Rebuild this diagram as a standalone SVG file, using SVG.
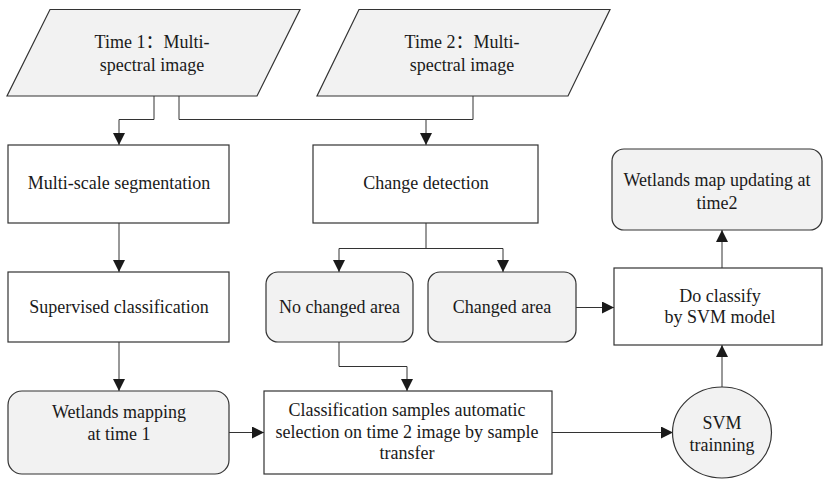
<svg xmlns="http://www.w3.org/2000/svg" width="823" height="479" viewBox="0 0 823 479">
  <defs>
    <marker id="arrow" markerWidth="12" markerHeight="12" refX="12" refY="6" orient="auto" markerUnits="userSpaceOnUse">
      <path d="M0,0 L12,6 L0,12 Z" fill="#1a1a1a"/>
    </marker>
  </defs>
  <style>
    .box { fill: #ffffff; stroke: #333333; stroke-width: 1.2; }
    .soft { fill: #f2f2f2; stroke: #333333; stroke-width: 1.2; }
    .link { fill: none; stroke: #333333; stroke-width: 1; marker-end: url(#arrow); }
    .plain { fill: none; stroke: #333333; stroke-width: 1; }
  </style>
  <rect width="823" height="479" fill="#ffffff"/>

  <!-- connectors -->
  <g id="connectors">
    <path class="link" d="M154,96 V119.5 H119 V145"/>
    <path class="plain" d="M179,96 V119.5 H473 V96"/>
    <path class="link" d="M426,119.5 V145"/>
    <path class="link" d="M119,223 V272"/>
    <path class="link" d="M119,342 V391"/>
    <path class="plain" d="M426,223 V248.5"/>
    <path class="link" d="M426,248.5 H339 V272"/>
    <path class="link" d="M426,248.5 H503 V272"/>
    <path class="link" d="M339,342 V366.5 H407 V391"/>
    <path class="link" d="M229,432.5 H264"/>
    <path class="link" d="M552,432.5 H673"/>
    <path class="link" d="M576,307.5 H614"/>
    <path class="link" d="M722,387 V345"/>
    <path class="link" d="M722,268 V230"/>
  </g>

  <!-- labels: Times-metric serif, centred -->
  <g fill="#1a1a1a" text-anchor="middle">
  <g id="time1-image">
    <polygon class="soft" points="50,9.5 300,9.5 257,96 7,96"/>
    <text x="152" y="48" font-family="Liberation Serif, Noto Sans CJK SC, serif" font-size="18">Time 1&#xFF1A;Multi-</text>
    <text x="152" y="71" font-family="Liberation Serif, serif" font-size="18">spectral image</text>
  </g>

  <g id="time2-image">
    <polygon class="soft" points="359,9.5 610,9.5 568,96 317,96"/>
    <text x="462" y="48" font-family="Liberation Serif, Noto Sans CJK SC, serif" font-size="18">Time 2&#xFF1A;Multi-</text>
    <text x="462" y="71" font-family="Liberation Serif, serif" font-size="18">spectral image</text>
  </g>

  <g id="segmentation">
    <rect class="box" x="8" y="145" width="221" height="78"/>
    <text x="119" y="189" font-family="Liberation Serif, serif" font-size="18">Multi-scale segmentation</text>
  </g>

  <g id="change-detection">
    <rect class="box" x="313" y="145" width="225" height="78"/>
    <text x="426" y="189" font-family="Liberation Serif, serif" font-size="18">Change detection</text>
  </g>

  <g id="supervised">
    <rect class="box" x="8" y="272" width="221" height="70"/>
    <text x="119" y="313" font-family="Liberation Serif, serif" font-size="18">Supervised classification</text>
  </g>

  <g id="no-changed">
    <rect class="soft" x="266" y="272" width="147" height="70" rx="12"/>
    <text x="339.5" y="313" font-family="Liberation Serif, serif" font-size="18">No changed area</text>
  </g>

  <g id="changed">
    <rect class="soft" x="428" y="272" width="148" height="70" rx="12"/>
    <text x="502" y="313" font-family="Liberation Serif, serif" font-size="18">Changed area</text>
  </g>

  <g id="wetlands-time1">
    <rect class="soft" x="8" y="391" width="221" height="83" rx="14"/>
    <text x="119" y="418" font-family="Liberation Serif, serif" font-size="18">Wetlands mapping</text>
    <text x="119" y="440" font-family="Liberation Serif, serif" font-size="18">at time 1</text>
  </g>

  <g id="sample-transfer">
    <rect class="box" x="264" y="391" width="288" height="83"/>
    <text x="407" y="416" font-family="Liberation Serif, serif" font-size="18">Classification samples automatic</text>
    <text x="407" y="438" font-family="Liberation Serif, serif" font-size="18">selection on time 2 image by sample</text>
    <text x="407" y="459" font-family="Liberation Serif, serif" font-size="18">transfer</text>
  </g>

  <g id="svm-training">
    <ellipse class="soft" cx="722" cy="432.5" rx="49.5" ry="45.5"/>
    <text x="722" y="429" font-family="Liberation Serif, serif" font-size="18">SVM</text>
    <text x="722" y="451" font-family="Liberation Serif, serif" font-size="18">trainning</text>
  </g>

  <g id="svm-classify">
    <rect class="box" x="614" y="268" width="208" height="77"/>
    <text x="720" y="302" font-family="Liberation Serif, serif" font-size="18">Do classify</text>
    <text x="720" y="323" font-family="Liberation Serif, serif" font-size="18">by SVM model</text>
  </g>

  <g id="wetlands-time2">
    <rect class="soft" x="612" y="149" width="210" height="81" rx="12"/>
    <text x="717" y="186" font-family="Liberation Serif, serif" font-size="18">Wetlands map updating at</text>
    <text x="717" y="209" font-family="Liberation Serif, serif" font-size="18">time2</text>
  </g>
  </g>
</svg>
